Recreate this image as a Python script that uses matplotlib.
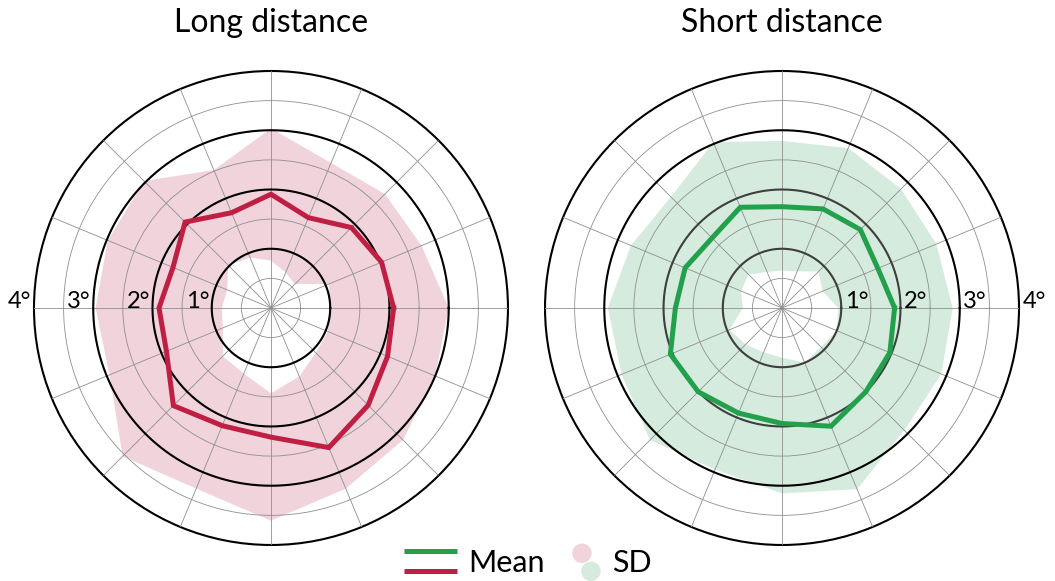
import numpy as np
import matplotlib.pyplot as plt
from matplotlib.path import Path
from matplotlib.patches import PathPatch, Circle
from matplotlib.lines import Line2D
from matplotlib.legend_handler import HandlerBase

plt.rcParams['font.family'] = ['Lato', 'DejaVu Sans']

# gaze error per direction (deg), directions counter-clockwise from the right
directions = np.arange(0, 360, 22.5)

long_mean = [2.07, 2.02, 1.92, 1.65, 1.92, 1.74, 2.05, 1.79,
             1.89, 1.91, 2.33, 2.15, 2.18, 2.55, 2.32, 2.13]
long_upper = [3.00, 2.75, 2.72, 2.65, 3.03, 2.52, 3.03, 2.98,
              2.96, 2.95, 3.54, 3.30, 3.59, 3.30, 3.15, 3.00]
long_lower = [0.98, 1.06, 0.57, 0.65, 0.80, 0.92, 1.02, 0.80,
              0.83, 0.88, 1.15, 1.20, 1.44, 1.25, 1.07, 1.04]

short_mean = [1.90, 1.75, 1.87, 1.81, 1.71, 1.84, 1.67, 1.77,
              1.80, 2.04, 2.00, 1.92, 1.95, 2.16, 2.00, 1.97]
short_upper = [2.88, 2.82, 2.84, 2.92, 2.82, 3.03, 2.65, 2.76,
               2.94, 2.93, 3.15, 2.95, 3.13, 3.31, 2.92, 2.91]
short_lower = [0.95, 0.74, 0.87, 0.67, 0.63, 0.66, 0.80, 0.75,
               0.66, 0.96, 0.87, 0.81, 0.84, 1.00, 0.93, 1.00]

rings = [1, 2, 3, 4]
ring_labels = ['1°', '2°', '3°', '4°']

RED, PINK = '#C01F44', '#F0D3DB'
GREEN, MINT = '#22A04B', '#D4EBDD'


def closed(vals):
    vals = np.asarray(vals, dtype=float)
    return np.r_[vals, vals[0]]


def draw_panel(ax, title, mean, lower, upper, line_color, fill_color,
               inner_ring_color, label_angle, label_ha):
    th = closed(np.deg2rad(directions))
    th[-1] += 2 * np.pi

    ax.set_ylim(0, 4)
    ax.set_yticks(np.arange(0.5, 4, 0.5))
    ax.set_yticklabels([])
    ax.set_xticks(np.deg2rad(directions))
    ax.set_xticklabels([])
    ax.grid(color='#8f8f8f', lw=0.6)
    ax.set_axisbelow(False)
    ax.spines['polar'].set(lw=1.5, color='black')

    # SD ring: outer boundary forward, inner boundary backward
    outer = np.column_stack([th, closed(upper)])
    inner = np.column_stack([th[::-1], closed(lower)[::-1]])
    verts = np.vstack([outer, inner])
    codes = ([Path.MOVETO] + [Path.LINETO] * (len(outer) - 1)
             + [Path.MOVETO] + [Path.LINETO] * (len(inner) - 1))
    ax.add_patch(PathPatch(Path(verts, codes), facecolor=fill_color,
                           edgecolor='none', zorder=1))

    circ = np.linspace(0, 2 * np.pi, 361)
    for r in rings[:-1]:
        col = inner_ring_color if r < 3 else 'black'
        ax.plot(circ, np.full_like(circ, r), color=col, lw=1.5, zorder=3)

    ax.plot(th, closed(mean), color=line_color, lw=3.6, zorder=4,
            solid_joinstyle='miter')

    pad = 0.04 if label_ha == 'right' else 0.06
    for r, lab in zip(rings, ring_labels):
        ax.text(np.deg2rad(label_angle), r + pad, lab, fontsize=17,
                fontweight='normal', ha=label_ha, va='baseline', zorder=5)

    ax.set_title(title, fontsize=23, fontweight='normal', y=1.082, pad=0)


class StackedHandler(HandlerBase):
    def __init__(self, colors, kind):
        super().__init__()
        self.colors = colors
        self.kind = kind

    def create_artists(self, legend, orig_handle, xdescent, ydescent,
                       width, height, fontsize, trans):
        x0 = -xdescent
        yc = height / 2 - ydescent
        arts = []
        if self.kind == 'line':
            for dy, c in zip([7.2, -7.2], self.colors):
                arts.append(Line2D([x0, x0 + width], [yc + dy, yc + dy],
                                   color=c, lw=3.6, solid_capstyle='butt',
                                   transform=trans))
        else:
            for (dx, dy), c in zip([(-13.7, 5.8), (-7.2, -7.2)], self.colors):
                arts.append(Circle((x0 + width + dx, yc + dy), 7.0,
                                   facecolor=c, edgecolor='none',
                                   transform=trans))
        return arts


fig = plt.figure(figsize=(10.55, 5.81), dpi=100)
ax_long = fig.add_axes([0.0322, 0.062, 0.4493, 0.8158], projection='polar')
ax_short = fig.add_axes([0.5166, 0.062, 0.4493, 0.8158], projection='polar')

draw_panel(ax_long, 'Long distance', long_mean, long_lower, long_upper,
           RED, PINK, 'black', 180, 'right')
draw_panel(ax_short, 'Short distance', short_mean, short_lower, short_upper,
           GREEN, MINT, '#3f3f3f', 0, 'left')

mean_handle = Line2D([], [])
sd_handle = Circle((0, 0), 1)
fig.legend([mean_handle, sd_handle], ['Mean', 'SD'],
           handler_map={mean_handle: StackedHandler([GREEN, RED], 'line'),
                        sd_handle: StackedHandler([PINK, MINT], 'dot')},
           loc='center', bbox_to_anchor=(0.5, 18 / 581), ncol=2,
           frameon=False, prop={'size': 22, 'weight': 'normal'},
           handlelength=1.75, handleheight=0.7,
           handletextpad=0.35, columnspacing=0.1)

fig.savefig('out.png', dpi=100)
